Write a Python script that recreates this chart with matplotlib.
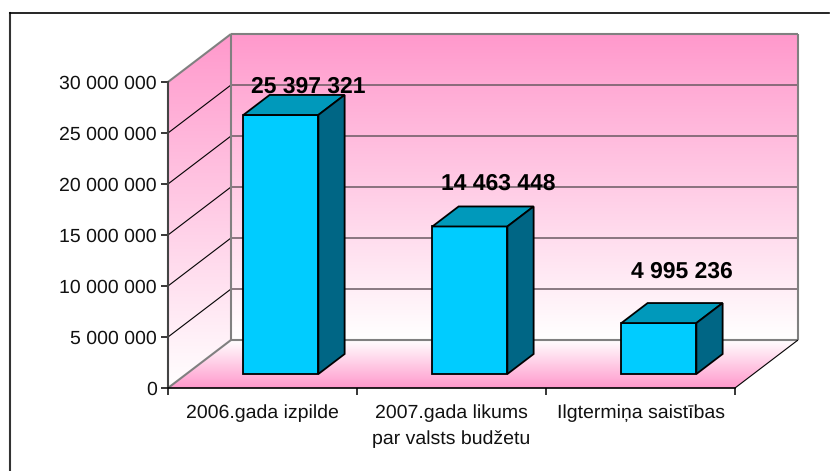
#!/usr/bin/env python3
import matplotlib
matplotlib.use("Agg")
import matplotlib.pyplot as plt
from matplotlib.colors import LinearSegmentedColormap
from matplotlib.lines import Line2D
from matplotlib.patches import Polygon
import numpy as np

plt.rcParams["font.family"] = ["Liberation Sans", "DejaVu Sans"]
plt.rcParams["text.hinting"] = "none"

categories = ["2006.gada izpilde", "2007.gada likums\npar valsts budžetu", "Ilgtermiņa saistības"]
values = [25397321, 14463448, 4995236]
y_ticks = [0, 5000000, 10000000, 15000000, 20000000, 25000000, 30000000]

W, H = 830, 471
PINK = "#FF99CC"
BAR_FRONT = "#00CCFF"
BAR_TOP = "#0099BB"
BAR_SIDE = "#006685"
EDGE = "#808080"

fig = plt.figure(figsize=(W / 100, H / 100), dpi=100)
# front plane of the fake 3d box
ax = fig.add_axes([168 / W, (H - 388) / H, (735 - 168) / W, (388 - 82) / H])
ax.set_xlim(0, 3)
ax.set_ylim(0, 30000000)

# full depth of the box, in data units
DX = 63 / 189
DY = 48 / 306 * 30000000
XMAX, YMAX = 3, 30000000


def proj(x, y, d):
    return (x + d * DX, y + d * DY)


cmap = LinearSegmentedColormap.from_list("wall", [PINK, "#FFFFFF"])


def gradient_face(corners, reverse=False):
    poly = Polygon(corners, closed=True, facecolor="none", edgecolor="none", transform=ax.transData)
    ax.add_patch(poly)
    xs = [c[0] for c in corners]
    ys = [c[1] for c in corners]
    grad = np.linspace(0, 1, 256).reshape(-1, 1)
    if reverse:
        grad = grad[::-1]
    im = ax.imshow(grad, cmap=cmap, aspect="auto", origin="upper", vmin=0, vmax=1,
                   extent=(min(xs), max(xs), min(ys), max(ys)), zorder=1)
    im.set_clip_box(fig.bbox)
    im.set_clip_path(poly)


# back wall, side wall, floor
gradient_face([proj(0, 0, 1), proj(XMAX, 0, 1), proj(XMAX, YMAX, 1), proj(0, YMAX, 1)])
gradient_face([proj(0, 0, 0), proj(0, 0, 1), proj(0, YMAX, 1), proj(0, YMAX, 0)])
gradient_face([proj(0, 0, 0), proj(XMAX, 0, 0), proj(XMAX, 0, 1), proj(0, 0, 1)], reverse=True)
ax.set_xlim(0, 3)
ax.set_ylim(0, 30000000)


def seg(p, q, color, lw, z=2):
    ax.plot([p[0], q[0]], [p[1], q[1]], color=color, lw=lw, zorder=z, clip_on=False,
            solid_capstyle="butt")


# gridlines
for t in y_ticks[1:-1]:
    seg(proj(0, t, 0), proj(0, t, 1), "#000000", 0.8)
    seg(proj(0, t, 1), proj(XMAX, t, 1), "#6A5A62", 1.1)

# box edges
seg(proj(0, YMAX, 0), proj(0, YMAX, 1), EDGE, 1.5)
seg(proj(0, YMAX, 1), proj(XMAX, YMAX, 1), EDGE, 1.5)
seg(proj(0, 0, 1), proj(0, YMAX, 1), EDGE, 1.5)
seg(proj(XMAX, 0, 1), proj(XMAX, YMAX, 1), EDGE, 1.5)
seg(proj(0, 0, 1), proj(XMAX, 0, 1), EDGE, 1.5)
seg(proj(0, 0, 0), proj(0, 0, 1), EDGE, 1.5)
seg(proj(XMAX, 0, 0), proj(XMAX, 0, 1), "#000000", 0.8)

# bars
bar_w = 75 / 189
d0, d1 = 14 / 48, 34 / 48
x = np.arange(len(values)) + 0.5
for xc, v in zip(x, values):
    left = xc - bar_w / 2
    right = xc + bar_w / 2
    fx, fy = proj(xc, 0, d0)
    ax.bar(fx, v, bar_w, bottom=fy, color=BAR_FRONT, edgecolor="black", linewidth=1.3,
           zorder=5, clip_on=False)
    ax.add_patch(Polygon([proj(left, v, d0), proj(right, v, d0), proj(right, v, d1), proj(left, v, d1)],
                         closed=True, facecolor=BAR_TOP, edgecolor="black", linewidth=1.3,
                         zorder=5, clip_on=False))
    ax.add_patch(Polygon([proj(right, 0, d0), proj(right, 0, d1), proj(right, v, d1), proj(right, v, d0)],
                         closed=True, facecolor=BAR_SIDE, edgecolor="black", linewidth=1.3,
                         zorder=5, clip_on=False))

# value labels, excel puts them a bit unevenly
label_off = [(27, 28), (28, 43), (23, 51)]
for xc, v, off in zip(x, values, label_off):
    ax.annotate(f"{v:,}".replace(",", " "), xy=proj(xc, v, d0), xytext=off,
                textcoords="offset pixels", ha="center", va="center",
                fontsize=16.5, fontweight="bold", color="black", zorder=6, annotation_clip=False)

# axes
for s in ["top", "right"]:
    ax.spines[s].set_visible(False)
ax.spines["left"].set_linewidth(1.5)
ax.spines["left"].set_color("#444444")
ax.spines["bottom"].set_linewidth(1.2)
for s in ["left", "bottom"]:
    ax.spines[s].set_zorder(4)
ax.set_yticks(y_ticks)
ax.set_yticklabels([f"{t:,}".replace(",", " ") for t in y_ticks], fontsize=14, color="#111111")
ax.tick_params(axis="y", length=5, width=1.1, pad=3)
ax.set_xticks(np.arange(len(categories) + 1))
ax.set_xticklabels([])
ax.set_xticks(x, minor=True)
ax.set_xticklabels(categories, minor=True, fontsize=14, color="#111111", linespacing=1.6)
ax.tick_params(axis="x", which="major", length=5, width=1.1)
ax.tick_params(axis="x", which="minor", length=0, pad=12)

# chart frame, only left and top are visible in the picture
fig.add_artist(Line2D([10 / W, 10 / W], [0, (H - 13) / H], color="#333333", lw=1.5))
fig.add_artist(Line2D([10 / W, 829 / W], [(H - 13) / H, (H - 13) / H], color="black", lw=1.2))

fig.savefig("out.png", dpi=100, facecolor="white")
